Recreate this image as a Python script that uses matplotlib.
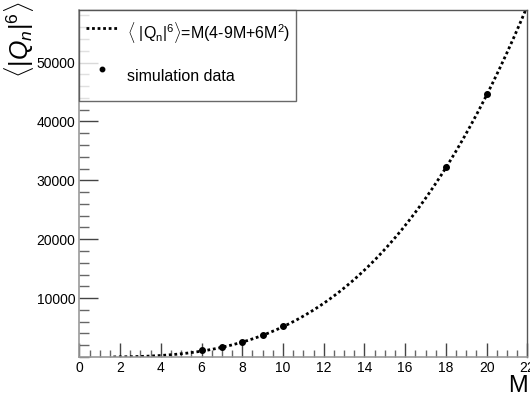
import numpy as np
import matplotlib
matplotlib.use("Agg")
import matplotlib.pyplot as plt
import matplotlib.ticker as mticker

plt.rcParams.update({
    "font.family": ["Liberation Sans", "DejaVu Sans"],
    "mathtext.fontset": "custom",
    "mathtext.rm": "Liberation Sans",
    "mathtext.it": "Liberation Sans:italic",
    "mathtext.bf": "Liberation Sans:bold",
})

# simulation points
sim_M = [6, 7, 8, 9, 10, 18, 20]
sim_Q6 = [1140, 1700, 2500, 3700, 5220, 32350, 44750]

# analytic curve range
curve_M_min = 1.67
curve_M_max = 22.0

x_ticks = [0, 2, 4, 6, 8, 10, 12, 14, 16, 18, 20, 22]
y_ticks = [10000, 20000, 30000, 40000, 50000]


def moment6(M):
    return M * (4 - 9 * M + 6 * M ** 2)


fig = plt.figure(figsize=(5.3, 4.0), dpi=100)
ax = fig.add_axes([0.1497, 0.1075, 0.8453, 0.8685])

Mc = np.linspace(curve_M_min, curve_M_max, 400)
ax.plot(Mc, moment6(Mc), color="black", linestyle=(0, (1, 1)), linewidth=2.0,
        label=r"$\langle$ |Q$_\mathrm{n}$|$^\mathrm{6}$$\rangle$=M(4-9M+6M$^\mathrm{2}$)")
ax.plot(sim_M, sim_Q6, "o", color="black", markersize=4.0, linestyle="none",
        label="simulation data")

ax.set_xlim(0, 22)
ax.set_ylim(0, 59000)
ax.set_xticks(x_ticks)
ax.set_yticks(y_ticks)
ax.xaxis.set_minor_locator(mticker.MultipleLocator(0.5))
ax.yaxis.set_minor_locator(mticker.MultipleLocator(2000))
ax.tick_params(which="major", direction="in", length=14, width=1.0,
               color="#444444", labelsize=10, pad=3)
ax.tick_params(axis="x", which="major", length=10)
ax.tick_params(which="minor", direction="in", length=7, width=1.0, color="#666666")
ax.tick_params(axis="x", which="minor", length=5)
for side in ["left", "bottom"]:
    ax.spines[side].set_color("#999999")
    ax.spines[side].set_linewidth(1.2)
for side in ["top", "right"]:
    ax.spines[side].set_color("#555555")
    ax.spines[side].set_linewidth(1.0)

fig.text(518 / 530, 1 - 386 / 400, "M", fontsize=17, ha="center", va="center")
fig.text(19 / 530, 1 - 1 / 400, r"$\langle|Q_n|^6\rangle$", fontsize=18,
         rotation=90, ha="center", va="top")

leg = ax.legend(loc="upper left", bbox_to_anchor=(0, 1), borderaxespad=0,
                fontsize=11.5, frameon=True, fancybox=False, handlelength=2.0,
                handleheight=3.2, handletextpad=0.56, labelspacing=0.3,
                borderpad=0.4, markerscale=0.8)
leg.get_frame().set_edgecolor("#444444")
leg.get_frame().set_linewidth(1.0)

fig.savefig("out.png", dpi=100)
